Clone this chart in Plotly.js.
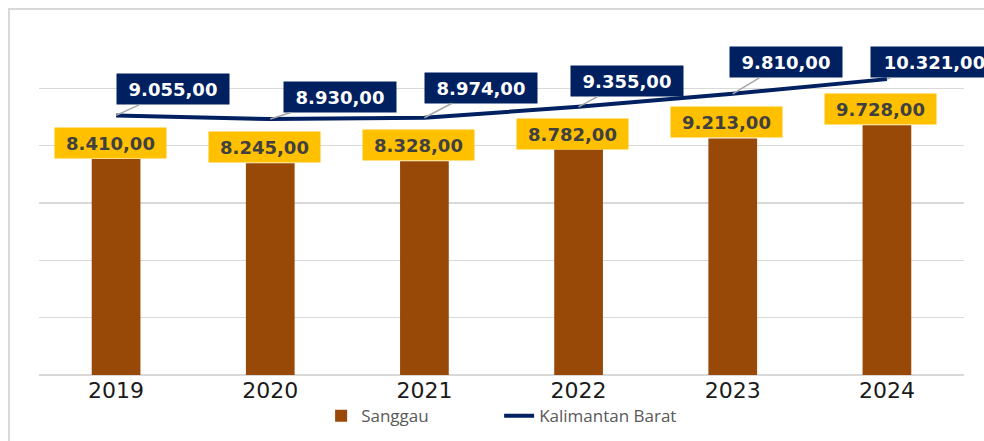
<!DOCTYPE html>
<html>
<head>
<meta charset="utf-8">
<script src="https://cdn.plot.ly/plotly-3.0.1.min.js"></script>
<style>
  html, body { margin: 0; padding: 0; background: #fff; }
  #plot { width: 984px; height: 441px; }
</style>
</head>
<body>
<div id="plot"></div>
<script>
const years = ["2019", "2020", "2021", "2022", "2023", "2024"];
const sanggau = [8410, 8245, 8328, 8782, 9213, 9728];
const kalbar = [9055, 8930, 8974, 9355, 9810, 10321];

// label offsets (px) from the line points to the navy boxes
const lineLabelAx = [57, 70, 57, 48, 53, 48];
const lineLabelAy = [-26, -22, -30, -26, -32, -17];

const barColor = "#984807";
const lineColor = "#002060";
const gold = "#FFC000";

// 9055 -> "9.055,00"
function fmt(v) {
  const [intPart, dec] = v.toFixed(2).split(".");
  return intPart.replace(/\B(?=(\d{3})+(?!\d))/g, ".") + "," + dec;
}

const barTrace = {
  type: "bar",
  name: "Sanggau",
  x: years,
  y: sanggau,
  yaxis: "y2",
  width: 0.316,
  marker: { color: barColor },
  hoverinfo: "x+y"
};

const lineTrace = {
  type: "scatter",
  mode: "lines",
  name: "Kalimantan Barat",
  x: years,
  y: kalbar,
  yaxis: "y",
  line: { color: lineColor, width: 4 },
  hoverinfo: "x+y"
};

const annotations = [];
sanggau.forEach((v, i) => {
  annotations.push({
    x: i, y: v, xref: "x", yref: "y2",
    text: fmt(v),
    showarrow: false,
    yanchor: "bottom",
    xshift: -6,
    width: 109, height: 28,
    bgcolor: gold,
    font: { family: "DejaVu Sans", size: 18, color: "#404040", weight: "bold" }
  });
});
kalbar.forEach((v, i) => {
  annotations.push({
    x: i, y: v, xref: "x", yref: "y",
    text: fmt(v),
    showarrow: true,
    arrowhead: 0,
    arrowwidth: 1.5,
    arrowcolor: "#a6a6a6",
    ax: lineLabelAx[i], ay: lineLabelAy[i],
    width: i === 5 ? 125 : 110, height: 28,
    bgcolor: lineColor,
    font: { family: "DejaVu Sans", size: 18, color: "#ffffff", weight: "bold" }
  });
});

const layout = {
  width: 984,
  height: 441,
  margin: { l: 39, r: 20, t: 31, b: 65.5, autoexpand: false },
  paper_bgcolor: "#ffffff",
  plot_bgcolor: "#ffffff",
  showlegend: true,
  legend: {
    orientation: "h",
    x: 0.305, xanchor: "left",
    y: -0.12, yanchor: "middle",
    bgcolor: "rgba(0,0,0,0)",
    entrywidth: 133,
    entrywidthmode: "pixels",
    font: { family: "Open Sans", size: 17, color: "#595959" },
    traceorder: "normal"
  },
  xaxis: {
    type: "category",
    range: [-0.5, 5.5],
    automargin: false,
    showgrid: false,
    zeroline: false,
    showline: false,
    tickfont: { family: "DejaVu Sans", size: 22, color: "#1a1a1a" },
    ticks: ""
  },
  yaxis: {
    range: [0, 12000],
    dtick: 2000,
    automargin: false,
    showgrid: true,
    gridcolor: "#d9d9d9",
    gridwidth: 1.5,
    zeroline: true,
    zerolinecolor: "#d9d9d9",
    zerolinewidth: 1.5,
    showticklabels: false
  },
  yaxis2: {
    range: [0, 13400],
    overlaying: "y",
    side: "right",
    automargin: false,
    showgrid: false,
    zeroline: false,
    showticklabels: false
  },
  shapes: [{
    type: "rect",
    xref: "paper", yref: "paper",
    x0: -0.0324, x1: 2, y0: -1, y1: 1.0639,
    line: { color: "#d9d9d9", width: 2 },
    fillcolor: "rgba(0,0,0,0)",
    layer: "below"
  }],
  annotations: annotations
};

Plotly.newPlot("plot", [barTrace, lineTrace], layout, { displayModeBar: false, staticPlot: true });
</script>
</body>
</html>
